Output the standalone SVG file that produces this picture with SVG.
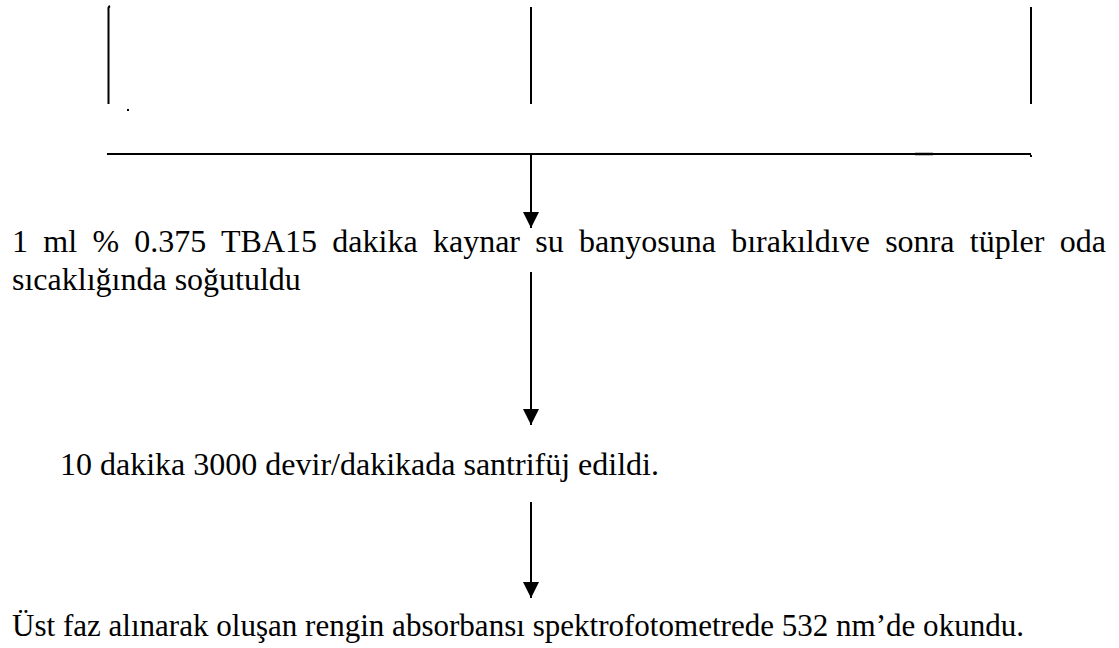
<svg xmlns="http://www.w3.org/2000/svg" width="1119" height="648" viewBox="0 0 1119 648">
  <defs>
    <marker id="ah" markerWidth="16" markerHeight="16" refX="16" refY="8" orient="auto" markerUnits="userSpaceOnUse">
      <path d="M0,0 L16,8 L0,16 Z" fill="#000"/>
    </marker>
    <style>
      .t { font-family: 'Liberation Serif', 'Times New Roman', serif; font-size: 32px; fill: #000; }
      .ln { stroke: #000; stroke-width: 2; fill: none; }
      .ar { stroke: #000; stroke-width: 2; fill: none; marker-end: url(#ah); }
    </style>
  </defs>
  <rect width="1119" height="648" fill="#fff"/>
  <g id="connectors">
    <path class="ln" d="M110,6 Q108,7 108.5,10 L108.5,104"/>
    <rect x="127" y="109" width="2" height="2" fill="#000"/>
    <line class="ln" x1="531" y1="7" x2="531" y2="104"/>
    <line class="ln" x1="1031" y1="7" x2="1031" y2="104"/>
    <line class="ln" x1="107" y1="154" x2="1031" y2="154"/>
    <line x1="915" y1="154" x2="933" y2="154" stroke="#000" stroke-width="2.5"/>
    <rect x="1030" y="155" width="2" height="2" fill="#000"/>
    <line class="ar" x1="531" y1="154" x2="531" y2="228"/>
    <line class="ar" x1="531" y1="272" x2="531" y2="425"/>
    <line class="ar" x1="531" y1="502" x2="531" y2="598"/>
  </g>
  <g id="node-step1">
    <text class="t" x="12" y="252" word-spacing="7.3">1 ml % 0.375 TBA15 dakika kaynar su banyosuna bırakıldıve sonra tüpler oda</text>
    <text class="t" x="12" y="290">sıcaklığında soğutuldu</text>
  </g>
  <g id="node-step2">
    <text class="t" x="60" y="475">10 dakika 3000 devir/dakikada santrifüj edildi.</text>
  </g>
  <g id="node-step3">
    <text class="t" x="12" y="636" textLength="1012" lengthAdjust="spacingAndGlyphs">Üst faz alınarak oluşan rengin absorbansı spektrofotometrede 532 nm’de okundu.</text>
  </g>
</svg>
